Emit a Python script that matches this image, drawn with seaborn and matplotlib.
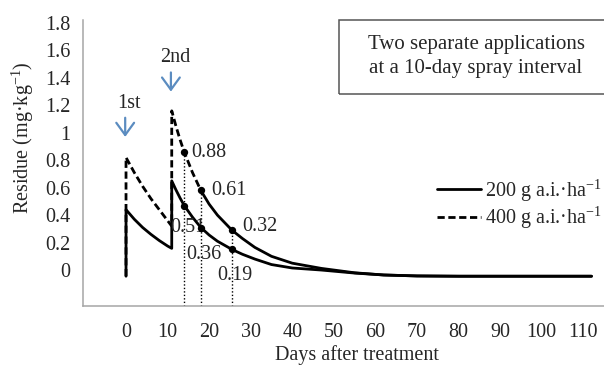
import numpy as np
import pandas as pd
import matplotlib
matplotlib.use("Agg")
import matplotlib.pyplot as plt
from matplotlib.patches import Rectangle
from matplotlib.lines import Line2D
import seaborn as sns

# values
days_200 = [0, 0, 2, 4, 6, 8, 10, 11, 11, 12, 13, 14, 16, 18, 20, 22, 25.5, 28, 31, 35, 40, 47, 55, 62, 70, 80, 90, 100, 112]
res_200 = [-0.045, 0.44, 0.37, 0.31, 0.26, 0.215, 0.175, 0.158, 0.65, 0.585, 0.525, 0.47, 0.385, 0.31, 0.255, 0.21, 0.15,
           0.115, 0.08, 0.04, 0.015, 0.0, -0.022, -0.036, -0.043, -0.045, -0.045, -0.045, -0.045]

days_400 = [0, 0, 2, 4, 6, 8, 10, 11, 11, 12, 13, 14, 16, 18, 20, 22, 25.5, 28, 31, 35, 40, 47, 55, 62, 70, 80, 90, 100, 112]
res_400 = [-0.045, 0.82, 0.71, 0.61, 0.52, 0.44, 0.36, 0.32, 1.16, 1.05, 0.95, 0.86, 0.71, 0.58, 0.48, 0.40, 0.29,
           0.23, 0.165, 0.10, 0.05, 0.012, -0.02, -0.036, -0.043, -0.045, -0.045, -0.045, -0.045]

point_days = [14, 18, 25.5]
point_400 = [0.86, 0.58, 0.29]
point_200 = [0.47, 0.31, 0.15]
labels_400 = ["0.88", "0.61", "0.32"]
labels_200 = ["0.51", "0.36", "0.19"]

spray_days = [0, 11]
spray_names = ["1st", "2nd"]

yticks = [0, 0.2, 0.4, 0.6, 0.8, 1.0, 1.2, 1.4, 1.6, 1.8]
xticks = list(range(0, 111, 10))

sns.set_style("white")
plt.rcParams["font.family"] = ["Liberation Serif", "DejaVu Serif"]
plt.rcParams["mathtext.fontset"] = "custom"
plt.rcParams["mathtext.rm"] = "Liberation Serif"
plt.rcParams["mathtext.it"] = "Liberation Serif:italic"
fs = 14.5

fig = plt.figure(figsize=(6.04, 3.66), dpi=100)
ax = fig.add_axes([83 / 604, 60 / 366, 521 / 604, 286 / 366])

df200 = pd.DataFrame({"day": days_200, "res": res_200})
df400 = pd.DataFrame({"day": days_400, "res": res_400})

# 400 g: dashed early part, solid tail (as in the original)
head = df400.iloc[:14]
tail = df400.iloc[13:]
sns.lineplot(data=head, x="day", y="res", sort=False, estimator=None, ax=ax,
             color="black", lw=2.0, linestyle=(0, (2.6, 1.3)))
sns.lineplot(data=tail, x="day", y="res", sort=False, estimator=None, ax=ax,
             color="black", lw=2.0)
sns.lineplot(data=df200, x="day", y="res", sort=False, estimator=None, ax=ax,
             color="black", lw=2.0)

# dotted drop lines and points
ymin = -0.262
for d, v in zip(point_days, point_400):
    ax.plot([d, d], [ymin, v], color="black", lw=1.0, linestyle=(0, (1, 1.5)))
pts = pd.DataFrame({"day": point_days * 2, "res": point_400 + point_200})
sns.scatterplot(data=pts, x="day", y="res", ax=ax, color="black", s=28, linewidth=0, zorder=5)

up_off = [(7, 0), (10, 0), (10, 4)]
lo_off = [(-14, -22), (-15, -27), (-15, -26)]
for d, v, t, o in zip(point_days, point_400, labels_400, up_off):
    ax.annotate(t, (d, v), xytext=o, textcoords="offset pixels", fontsize=fs,
                ha="left", va="center")
for d, v, t, o in zip(point_days, point_200, labels_200, lo_off):
    ax.annotate(t, (d, v), xytext=o, textcoords="offset pixels", fontsize=fs,
                ha="left", va="center")

# spray arrows
arrow_top = [1.13, 1.46]
arrow_tip = [0.95, 1.28]
name_y = [1.21, 1.55]
for d, n, t0, t1, ny in zip(spray_days, spray_names, arrow_top, arrow_tip, name_y):
    ax.annotate("", xy=(d - 0.2, t1), xytext=(d - 0.2, t0),
                arrowprops=dict(arrowstyle="->,head_length=0.55,head_width=0.4",
                                color="#5B8CC0", lw=1.6, mutation_scale=16))
    ax.text(d + 0.8, ny, n, fontsize=fs, ha="center", va="center")

ax.set_xlim(-10.35, 115)
ax.set_ylim(ymin, 1.822)
ax.set_xticks(xticks)
ax.set_yticks(yticks)
ax.set_yticklabels([f"{v:g}" for v in yticks])
ax.tick_params(axis="both", length=0, labelsize=fs)
ax.tick_params(axis="x", pad=12)
ax.tick_params(axis="y", pad=9)
for s in ["top", "right"]:
    ax.spines[s].set_visible(False)
for s in ["left", "bottom"]:
    ax.spines[s].set_color("#A6A6A6")
    ax.spines[s].set_linewidth(1.1)

ax.set_xlabel("Days after treatment", fontsize=fs)
ax.set_ylabel("Residue (mg·kg$^{-1}$)", fontsize=fs)
ax.xaxis.set_label_coords(0.526, -0.138)
ax.yaxis.set_label_coords(-0.09, 0.587)

handles = [Line2D([], [], color="black", lw=2.0),
           Line2D([], [], color="black", lw=2.0, linestyle=(0, (2.6, 1.3)))]
ax.legend(handles, ["200 g a.i.·ha$^{-1}$", "400 g a.i.·ha$^{-1}$"], loc="upper left",
          bbox_to_anchor=(0.679, 0.45), frameon=False, fontsize=fs, borderpad=0,
          borderaxespad=0, handlelength=2.2, handletextpad=0.2, labelspacing=0.08)

# note box in the upper right
fig.patches.append(Rectangle((339 / 604, 1 - 94 / 366), 0.5, 74 / 366, transform=fig.transFigure,
                             fill=False, edgecolor="#555555", lw=1.1))
fig.text(476 / 604, 1 - 56.5 / 366, "Two separate applications\nat a 10-day spray interval",
         ha="center", va="center", fontsize=15, linespacing=1.3)

fig.savefig("out.png", dpi=100)
